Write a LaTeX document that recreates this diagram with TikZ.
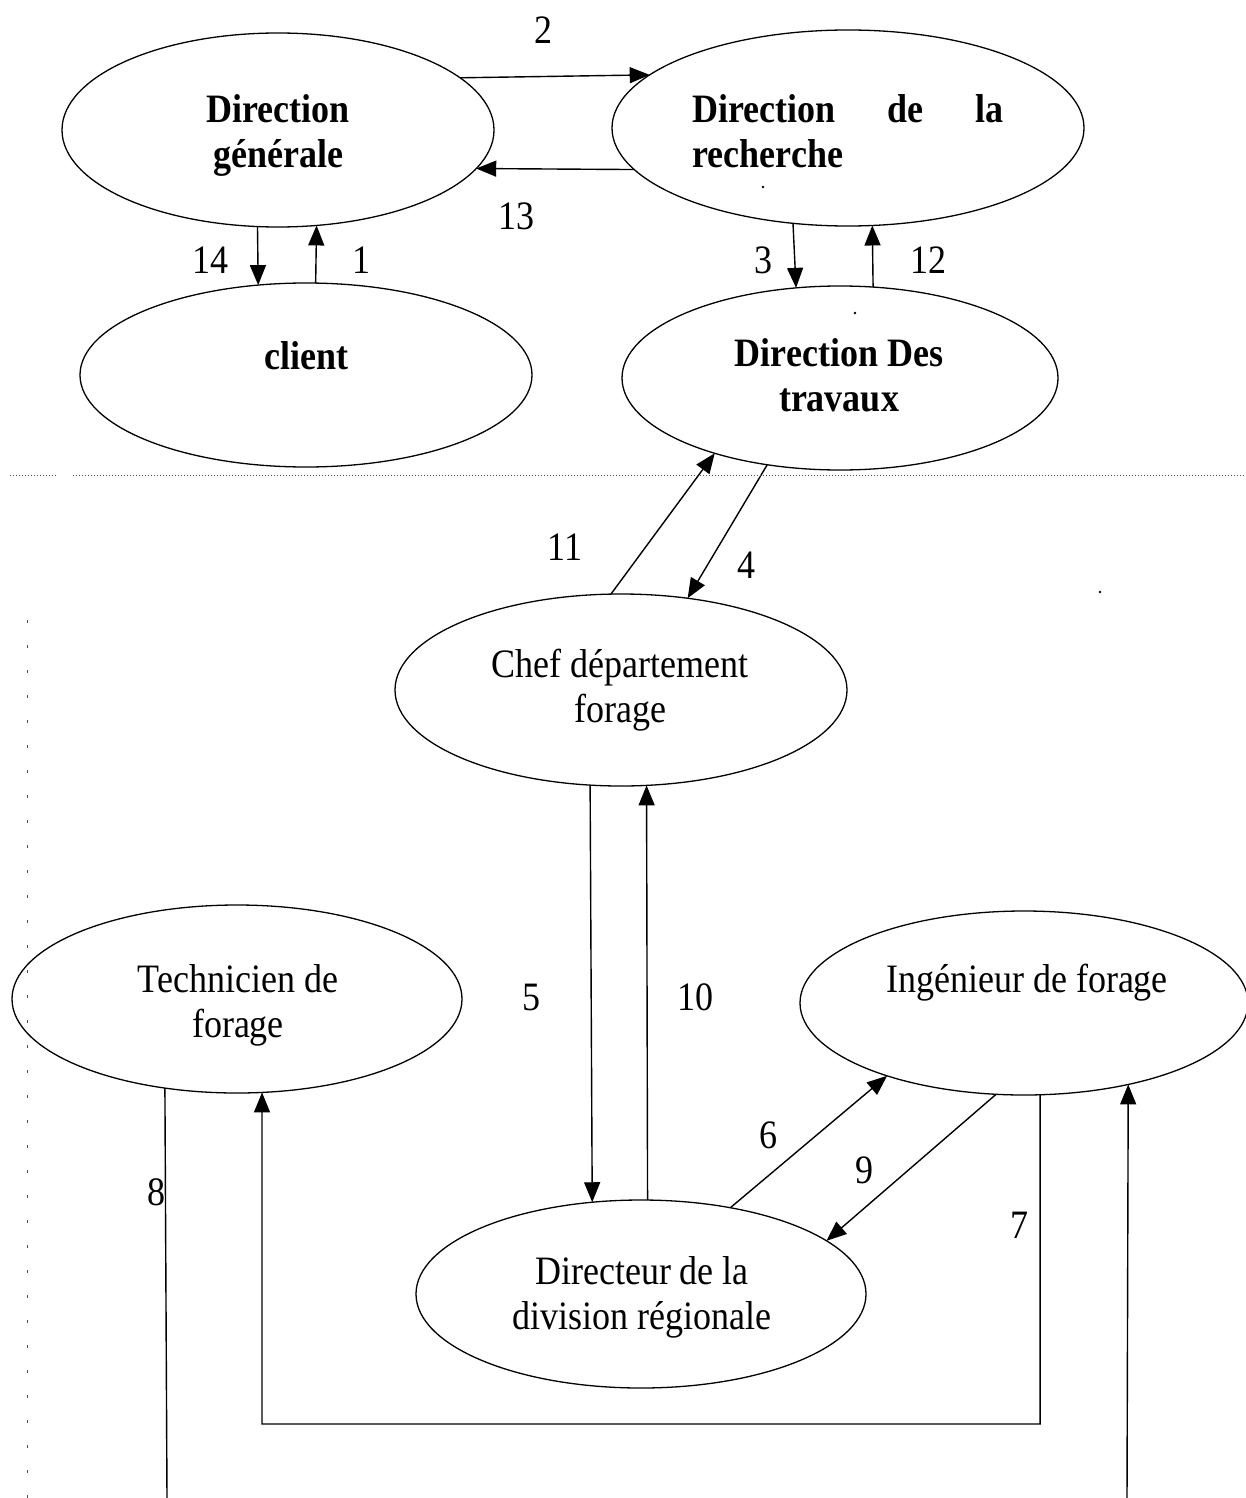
\documentclass[tikz,border=0pt]{standalone}
\usepackage{fontspec}
\setmainfont{Liberation Serif}
\usepackage{graphicx}
\usetikzlibrary{shapes.geometric,arrows.meta}
\newcommand{\vstr}[1]{\scalebox{1}[1.12]{#1}}
\begin{document}
\begin{tikzpicture}[x=1pt,y=-1pt,
  ell/.style={draw, ellipse, line width=1.3pt, inner sep=0pt, outer sep=0pt},
  lbl/.style={inner sep=0pt, font=\fontsize{36}{40}\selectfont},
  arr/.style={line width=1.4pt, -{Triangle[length=20pt,width=16pt]}},
  ln/.style={line width=1.4pt},
  num/.style={inner sep=0pt, font=\fontsize{36}{40}\selectfont},
  sep/.style={line width=0.8pt, black!70, dash pattern=on 1.2pt off 1.8pt}]
\useasboundingbox (0,0) rectangle (1246,1498);
\fill[white] (0,0) rectangle (1246,1498);

% ellipses
\node[ell, minimum width=432pt, minimum height=194pt] (dg) at (278,130) {};
\node[ell, minimum width=472pt, minimum height=196pt] (dr) at (848,128) {};
\node[ell, minimum width=452pt, minimum height=184pt] (cl) at (306,375) {};
\node[ell, minimum width=436pt, minimum height=184pt] (dt) at (840,378) {};
\node[ell, minimum width=452pt, minimum height=192pt] (cf) at (621,690) {};
\node[ell, minimum width=450pt, minimum height=188pt] (tf) at (237,999) {};
\node[ell, minimum width=448pt, minimum height=184pt] (ing) at (1024,1003) {};
\node[ell, minimum width=450pt, minimum height=188pt] (dd) at (641,1294) {};

% texts
\node[lbl] (tdg) at (278,136) {\vstr{\bfseries\begin{tabular}{@{}c@{}}Direction\\générale\end{tabular}}};
\node[lbl] (tdr) at (848,136) {\vstr{\bfseries\begin{tabular}{@{}l@{}}\hbox to 311pt{Direction\hfill de\hfill la}\\recherche\end{tabular}}};
\node[lbl] (tcl) at (306,356) {\vstr{\bfseries client}};
\node[lbl] (tdt) at (839,380) {\vstr{\bfseries\begin{tabular}{@{}c@{}}Direction Des\\travaux\end{tabular}}};
\node[lbl] (tcf) at (620,691) {\vstr{\begin{tabular}{@{}c@{}}Chef département\\forage\end{tabular}}};
\node[lbl] (ttf) at (238,1006) {\vstr{\begin{tabular}{@{}c@{}}Technicien de\\forage\end{tabular}}};
\node[lbl] (ting) at (1027,983) {\vstr{Ingénieur de forage}};
\node[lbl] (tdd) at (642,1298) {\vstr{\begin{tabular}{@{}c@{}}Directeur de la\\division régionale\end{tabular}}};

% connectors
\draw[arr] (dg.16.75) -- (dr.165.43);
\draw[arr] (dr.191.46) -- (dg.-11.83);
\draw[arr] (dg.258.3) -- (cl.118.1);
\draw[arr] (cl.84.4) -- (dg.-68.8);
\draw[arr] (dr.240.97) -- (dt.116.57);
\draw[arr] (dt.70.63) -- (dr.-76.17);
\draw[arr] (cf.96.5) -- (dt.211.4);
\draw[arr] (dt.230.8) -- (cf.54.7);
\draw[arr] (cf.252.5) -- (dd.118.6);
\draw[arr] (dd.86.96) -- (cf.-75.3);
\draw[arr] (dd.44.1) -- (ing.208.26);
\draw[arr] (ing.253.5) -- (dd.16.9);
\coordinate (b7) at (262,1424);
\draw[arr] (ing.-80.1) |- (b7) -- (tf.-75);
\coordinate (b8l) at (167,1498);
\coordinate (b8r) at (1127,1498);
\draw[ln] (tf.231.9) -- (b8l);
\draw[arr] (b8r) -- (ing.-38.4);

% numbers
\node[num] (n2) at (543,30) {\vstr{2}};
\node[num] (n13) at (516,216) {\vstr{13}};
\node[num] (n14) at (210,260) {\vstr{14}};
\node[num] (n1) at (361,260) {\vstr{1}};
\node[num] (n3) at (763,260) {\vstr{3}};
\node[num] (n12) at (928,260) {\vstr{12}};
\node[num] (n11) at (565,547) {\vstr{11}};
\node[num] (n4) at (746,565) {\vstr{4}};
\node[num] (n5) at (531,997) {\vstr{5}};
\node[num] (n10) at (695,997) {\vstr{10}};
\node[num] (n6) at (768,1135) {\vstr{6}};
\node[num] (n9) at (864,1170) {\vstr{9}};
\node[num] (n7) at (1019,1225) {\vstr{7}};
\node[num] (n8) at (156,1192) {\vstr{8}};

% separators and stray dots
\draw[sep] (10,475) -- (57,475);
\draw[sep] (73,475) -- (1246,475);
\draw[line width=0.8pt, black!70, dash pattern=on 3pt off 22pt] (27,620) -- (27,1498);
\fill (763,187) circle (1.3pt);
\fill (855,313) circle (1.3pt);
\fill (1100,592) circle (1.3pt);
\end{tikzpicture}
\end{document}
